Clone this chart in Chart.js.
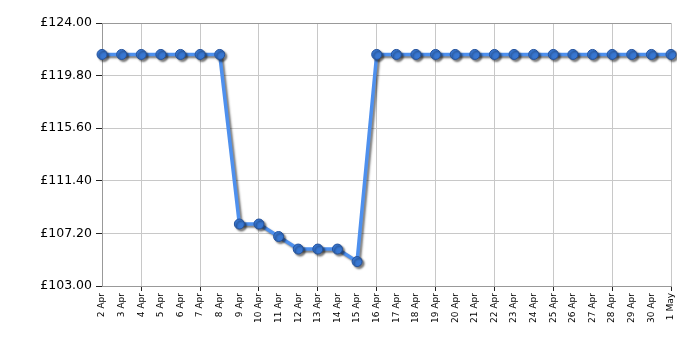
<!DOCTYPE html>
<html>
<head>
<meta charset="utf-8">
<script src="https://cdn.jsdelivr.net/npm/chart.js@4"></script>
<style>
  html, body { margin: 0; padding: 0; background: #fff; }
  #wrap { width: 700px; height: 350px; }
</style>
</head>
<body>
<div id="wrap"><canvas id="priceChart"></canvas></div>
<script>
// dates along the bottom
const dates = ["2 Apr", "3 Apr", "4 Apr", "5 Apr", "6 Apr", "7 Apr", "8 Apr", "9 Apr", "10 Apr", "11 Apr",
  "12 Apr", "13 Apr", "14 Apr", "15 Apr", "16 Apr", "17 Apr", "18 Apr", "19 Apr", "20 Apr", "21 Apr",
  "22 Apr", "23 Apr", "24 Apr", "25 Apr", "26 Apr", "27 Apr", "28 Apr", "29 Apr", "30 Apr", "1 May"];

// price per day (£)
const prices = [121.49, 121.49, 121.49, 121.49, 121.49, 121.49, 121.49, 107.95, 107.95, 106.95,
  105.95, 105.95, 105.95, 104.95, 121.49, 121.49, 121.49, 121.49, 121.49, 121.49,
  121.49, 121.49, 121.49, 121.49, 121.49, 121.49, 121.49, 121.49, 121.49, 121.49];

// y axis tick values
const yTicks = [103.00, 107.20, 111.40, 115.60, 119.80, 124.00];

// soft drop shadow under the line + dots
const shadowPlugin = {
  id: "lineShadow",
  beforeDatasetDraw(chart) {
    const ctx = chart.ctx;
    ctx.save();
    ctx.shadowColor = "rgba(0,0,0,0.5)";
    ctx.shadowOffsetX = 2;
    ctx.shadowOffsetY = 2;
    ctx.shadowBlur = 2;
  },
  afterDatasetDraw(chart) {
    chart.ctx.restore();
  }
};

const everyThird = (c) => (c.index % 3 === 2);

new Chart(document.getElementById("priceChart"), {
  type: "line",
  data: {
    labels: dates,
    datasets: [{
      data: prices,
      borderColor: "#4e90ee",
      borderWidth: 3.5,
      backgroundColor: "#3877d2",
      pointBackgroundColor: "#3877d2",
      pointBorderColor: "#24529c",
      pointBorderWidth: 1,
      pointRadius: 5,
      tension: 0,
      fill: false
    }]
  },
  options: {
    responsive: true,
    maintainAspectRatio: false,
    animation: false,
    layout: { padding: { top: 23, right: 29, left: 0, bottom: 0 } },
    plugins: {
      legend: { display: false },
      tooltip: { enabled: false }
    },
    scales: {
      x: {
        offset: false,
        border: { color: "#999", width: 1 },
        grid: {
          color: (c) => everyThird(c) ? "#c8c8c8" : "rgba(0,0,0,0)",
          tickColor: (c) => everyThird(c) ? "#222" : "rgba(0,0,0,0)",
          tickLength: 5
        },
        ticks: {
          autoSkip: false,
          minRotation: 90,
          maxRotation: 90,
          color: "#000",
          padding: 2,
          font: { family: "DejaVu Sans", size: 9 }
        },
        afterFit(scale) { scale.height = 64; }
      },
      y: {
        min: 103,
        max: 124,
        border: { color: "#999", width: 1 },
        grid: {
          color: (c) => (c.index === yTicks.length - 1 ? "#999" : "#c8c8c8"),
          tickColor: "#222",
          tickLength: 6
        },
        afterBuildTicks(scale) {
          scale.ticks = yTicks.map(v => ({ value: v }));
        },
        ticks: {
          color: "#000",
          padding: 4,
          font: { family: "DejaVu Sans", size: 12.5 },
          callback: (v) => "£" + Number(v).toFixed(2)
        },
        afterFit(scale) { scale.width = 102; }
      }
    }
  },
  plugins: [shadowPlugin]
});
</script>
</body>
</html>
